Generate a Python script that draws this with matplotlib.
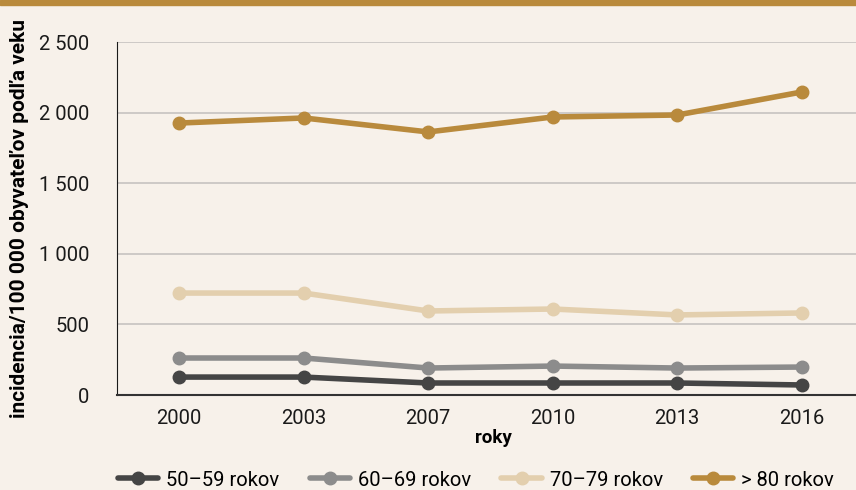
import matplotlib.pyplot as plt
from matplotlib.ticker import FuncFormatter

# data
years = ['2000', '2003', '2007', '2010', '2013', '2016']
g50_59 = [127, 127, 85, 85, 85, 71]
g60_69 = [262, 262, 191, 205, 191, 198]
g70_79 = [722, 722, 595, 609, 567, 581]
g80 = [1926, 1962, 1863, 1969, 1983, 2146]
labels = ['50\u201359 rokov', '60\u201369 rokov', '70\u201379 rokov', '> 80 rokov']
colors = ['#454545', '#8c8c8c', '#e3cfae', '#b98a3c']

BG = '#f7f1ea'
plt.rcParams['font.family'] = ['Roboto', 'DejaVu Sans']

fig = plt.figure(figsize=(8.56, 4.9), dpi=100, facecolor=BG)
ax = fig.add_axes([117 / 856, 95 / 490, 747 / 856, 353 / 490])
ax.set_facecolor(BG)

x = range(len(years))
for vals, lab, col in zip([g50_59, g60_69, g70_79, g80], labels, colors):
    ax.plot(x, vals, color=col, linewidth=4, marker='o', markersize=9, label=lab,
            solid_capstyle='round')

ax.set_xlim(-0.5, len(years) - 0.5)
ax.set_ylim(0, 2500)
ax.set_yticks(range(0, 2501, 500))
ax.yaxis.set_major_formatter(FuncFormatter(lambda v, p: f'{int(v):,}'.replace(',', ' ')))
ax.set_xticks(list(x))
ax.set_xticklabels(years)
ax.tick_params(length=0, labelsize=14.5, colors='#1a1a1a')
ax.tick_params(axis='x', pad=10)
ax.tick_params(axis='y', pad=20)
ax.grid(axis='y', color='#c6c3c0', linewidth=1.2)
ax.set_axisbelow(True)
for s in ['top', 'right']:
    ax.spines[s].set_visible(False)
ax.spines['left'].set_color('#1a1a1a')
ax.spines['bottom'].set_color('#333333')
ax.spines['bottom'].set_linewidth(1.5)

ax.set_xlabel('roky', fontsize=13.5, fontweight='bold', labelpad=0)
ax.xaxis.set_label_coords((493 - 117) / 747, -0.095)
ax.set_ylabel('incidencia/100 000 obyvate\u013eov pod\u013ea veku', fontsize=15, fontweight='bold')
ax.yaxis.set_label_coords(-0.118, 0.5)

fig.legend(loc='center left', bbox_to_anchor=(100 / 856, 10 / 490), ncol=4, frameon=False,
           fontsize=14.5, handlelength=2.0, columnspacing=1.5, handletextpad=0.4)

# gold strip along the top
fig.add_artist(plt.Rectangle((0, 1 - 5 / 490), 1, 5 / 490, transform=fig.transFigure,
                             color='#b98a3c'))

fig.savefig('out.png', dpi=100, facecolor=BG)
